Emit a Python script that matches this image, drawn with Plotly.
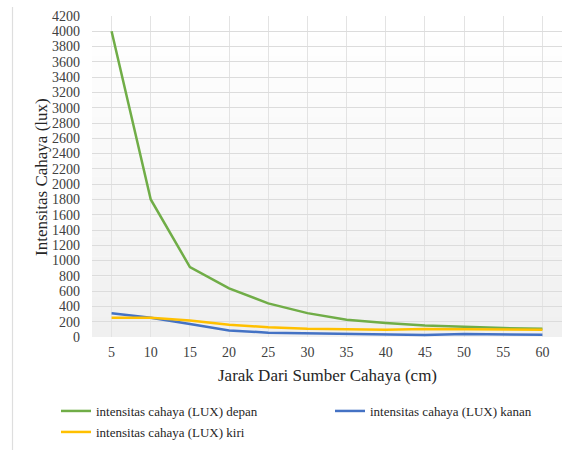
import plotly.graph_objects as go

jarak = [5, 10, 15, 20, 25, 30, 35, 40, 45, 50, 55, 60]
depan = [4000, 1800, 915, 635, 440, 312, 225, 183, 152, 130, 117, 108]
kanan = [312, 252, 170, 85, 57, 52, 40, 35, 27, 38, 35, 30]
kiri = [252, 252, 215, 160, 128, 108, 103, 96, 106, 103, 100, 96]

names = ["intensitas cahaya (LUX) depan", "intensitas cahaya (LUX) kanan",
         "intensitas cahaya (LUX) kiri"]
colors = ["#70ad47", "#4472c4", "#ffc000"]
y_ticks = list(range(0, 4201, 200))

W, H = 574, 450
L, R, T, B = 92, 12, 16, 113
pw, ph = W - L - R, H - T - B

def px(xp):
    return (xp - L) / pw

def py(yp):
    return (H - B - yp) / ph

font = "Liberation Serif"

fig = go.Figure()
legends = ["legend", "legend2", "legend3"]
for ys, nm, c, lg in zip([depan, kanan, kiri], names, colors, legends):
    fig.add_trace(go.Scatter(x=jarak, y=ys, mode="lines", name=nm,
                             line=dict(color=c, width=2.5), legend=lg))

# background gradient bands
shapes = []
n = 16
for i in range(n):
    v = 255 - round(15 * (i + 0.5) / n)
    shapes.append(dict(type="rect", xref="paper", yref="paper", x0=0, x1=1,
                       y0=1 - (i + 1) / n, y1=1 - i / n,
                       fillcolor=f"rgb({v},{v},{v})", line=dict(width=0),
                       layer="below"))
shapes.append(dict(type="line", xref="paper", yref="paper",
                   x0=px(12.5), x1=px(12.5), y0=py(7), y1=py(450),
                   line=dict(color="#dedede", width=1.2)))

leg_common = dict(font=dict(family=font, size=13, color="#262626"),
                  bgcolor="rgba(0,0,0,0)", itemwidth=30, yanchor="middle",
                  xanchor="left")

fig.update_layout(
    width=W, height=H,
    margin=dict(l=L, r=R, t=T, b=B, autoexpand=False),
    paper_bgcolor="white",
    plot_bgcolor="white",
    shapes=shapes,
    showlegend=True,
    legend=dict(x=px(56), y=py(411), **leg_common),
    legend2=dict(x=px(330), y=py(411), **leg_common),
    legend3=dict(x=px(56), y=py(432), **leg_common),
    xaxis=dict(range=[2.5, 62.5], tickvals=jarak, showgrid=True,
               gridcolor="#e3e3e3", gridwidth=1, zeroline=False,
               showline=False, ticks="", ticklabelstandoff=5,
               tickfont=dict(family=font, size=14, color="#404040")),
    yaxis=dict(range=[0, 4200], tickvals=y_ticks, showgrid=True,
               gridcolor="#dcdcdc", gridwidth=1, zeroline=False,
               showline=False, ticks="", ticklabelstandoff=11,
               tickfont=dict(family=font, size=14, color="#404040")),
    annotations=[
        dict(text="Jarak Dari Sumber Cahaya (cm)", xref="paper", yref="paper",
             x=0.5, y=py(375), xanchor="center", yanchor="middle",
             showarrow=False, font=dict(family=font, size=17, color="#262626")),
        dict(text="Intensitas Cahaya (lux)", xref="paper", yref="paper",
             x=px(42), y=py(177), xanchor="center", yanchor="middle",
             textangle=-90, showarrow=False,
             font=dict(family=font, size=17, color="#262626")),
    ],
)

fig.write_html("out.html", config={"displayModeBar": False},
               post_script="document.body.style.margin='0px';")
